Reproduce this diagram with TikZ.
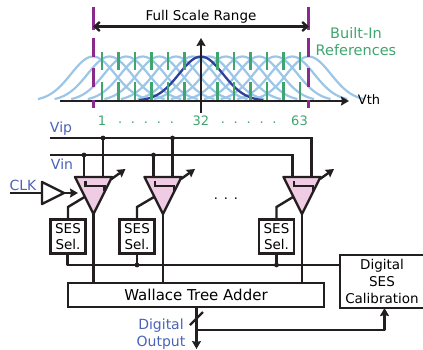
\documentclass[tikz,border=0pt]{standalone}
\usepackage{fontspec}
\setmainfont{DejaVu Sans}
\usetikzlibrary{arrows.meta,calc,positioning}
\definecolor{curvelight}{HTML}{9CC6E8}
\definecolor{curvedark}{HTML}{2F3F9C}
\definecolor{rangepurple}{HTML}{8A2A8C}
\definecolor{refgreen}{HTML}{3FA56F}
\definecolor{labelblue}{HTML}{4A62B8}
\definecolor{comppink}{HTML}{EFCCE3}
\definecolor{wire}{HTML}{231F20}
\tikzset{
  wireline/.style={line width=2.4pt,draw=wire},
  sesbox/.style={draw=wire,line width=2.4pt,fill=white,minimum width=35pt,minimum height=34pt,inner sep=0pt,align=center,font=\fontsize{13.5}{16}\selectfont},
  bluelabel/.style={text=labelblue,font=\fontsize{14}{17}\selectfont,inner sep=0pt},
  greenlabel/.style={text=refgreen,font=\fontsize{13}{14}\selectfont,inner sep=0pt},
  dotwire/.style={fill=wire},
}

\begin{document}
\begin{tikzpicture}[>={Stealth[length=8pt,width=9pt,inset=1pt]},x=1pt,y=-1pt]
  \useasboundingbox (0,0) rectangle (423,349);
  % threshold curves
  \foreach \k in {0,...,13} {
    \pgfmathsetmacro\c{93+16.6*\k}
    \draw[curvelight,line width=2.2pt] plot[domain=-55:55,samples=45,smooth] ({\c+\x},{101-44.5*exp(-(\x)*(\x)/968)});
  }
  \draw[curvedark,line width=2.3pt] plot[domain=-62:62,samples=45,smooth] ({201+\x},{101-44.5*exp(-(\x)*(\x)/968)});
  % built-in references
  \foreach \k in {0,1,2,3,4,5,7,8,9,10,11,12} {
    \pgfmathsetmacro\c{102+16.5*\k}
    \draw[refgreen,line width=2.2pt] (\c,52) -- (\c,70);
    \draw[refgreen,line width=2.2pt] (\c,82) -- (\c,100);
  }
  % axes
  \draw[->,wireline] (60,101) -- (349,101);
  \draw[->,wireline] (201,113) -- (201,38);
  \node[inner sep=0pt,font=\fontsize{13}{14}\selectfont] (vth) at (369,100) {Vth};
  % full scale markers
  \foreach \x in {93.5,308.5} {
    \draw[rangepurple,line width=2.2pt] (\x,7) -- (\x,30);
    \draw[rangepurple,line width=2.2pt] (\x,38) -- (\x,57);
    \draw[rangepurple,line width=2.2pt] (\x,68) -- (\x,87);
    \draw[rangepurple,line width=2.2pt] (\x,100) -- (\x,108);
  }
  \coordinate (fsl) at (93,26.5);
  \coordinate (fsr) at (309,26.5);
  \draw[{Straight Barb[length=5pt,width=9pt]}-{Straight Barb[length=5pt,width=9pt]},wireline] (fsl) -- (fsr);
  \node[inner sep=0pt,font=\fontsize{13.5}{14}\selectfont] (fsr text) at (201,17) {Full Scale Range};
  \node[text=refgreen,inner sep=0pt,align=center,font=\fontsize{14.5}{17}\selectfont] (refs) at (356,41.5) {Built-In\\References};
  \node[greenlabel] (n1) at (102,121) {1};
  \node[greenlabel,anchor=base] (d1) at (146,123) {.\hspace{8.8pt}.\hspace{8.8pt}.\hspace{8.8pt}.\hspace{8.8pt}.};
  \node[greenlabel] (n32) at (201,121) {32};
  \node[greenlabel,anchor=base] (d2) at (248.7,123) {.\hspace{8.8pt}.\hspace{8.8pt}.\hspace{8.8pt}.\hspace{8.8pt}.};
  \node[greenlabel] (n63) at (299.5,121) {63};
  % inputs
  \node[bluelabel] (vip) at (61,129) {Vip};
  \node[bluelabel] (vin) at (62,164) {Vin};
  \node[bluelabel] (clk) at (23,185) {CLK};
  \coordinate (vipl) at (50,138);
  \coordinate (vinl) at (50,155);
  % adder and calibration
  \node[draw=wire,line width=2.4pt,minimum width=256pt,minimum height=24pt,inner sep=0pt,font=\fontsize{15}{16}\selectfont] (wta) at (196,295) {Wallace Tree Adder};
  \node[draw=wire,line width=2.4pt,minimum width=84pt,minimum height=53pt,inner sep=0pt,align=center,font=\fontsize{13.5}{17}\selectfont] (cal) at (382,281.5) {Digital\\SES\\Calibration};
  % comparators
  \foreach \i/\a/\b in {1/93.5/68,2/163/137,3/302/276.5} {
    \coordinate (apex\i) at (\a,214);
    \coordinate (vn\i) at (\a-9.5,177);
    \coordinate (vp\i) at (\a+9.5,177);
    \coordinate (cal\i) at (\a-9,197);
    \node[sesbox] (ses\i) at (\b,236.5) {SES\\Sel.};
    \draw[wireline,line join=round,fill=comppink] (\a-18.5,177) -- (\a+18.5,177) -- (apex\i) -- cycle;
    \draw[wireline] (\a-8,181) -- (\a-8,186) -- (\a+11,186) -- (\a+11,191);
    \draw[->,wireline] (\a+18,179) -- (\a+32,169);
    \draw[wireline] (ses\i.north) -- (\b,207) -- (cal\i);
    \draw[wireline] (apex\i) -- (apex\i |- wta.north);
  }
  % Vip and Vin rails
  \draw[wireline] (vipl) -- (vp3 |- vipl) -- (vp3);
  \draw[wireline] (vinl) -- (vn3 |- vinl) -- (vn3);
  \foreach \i in {1,2} {
    \draw[wireline] (vp\i |- vipl) -- (vp\i);
    \draw[wireline] (vn\i |- vinl) -- (vn\i);
    \fill[dotwire] (vp\i |- vipl) circle (2.4pt);
    \fill[dotwire] (vn\i |- vinl) circle (2.4pt);
  }
  % clock buffer
  \coordinate (clkl) at (10,193);
  \draw[wireline,line join=round,fill=white] (42,182) -- (64,193) -- (42,204) -- cycle;
  \coordinate (bufin) at (42,193);
  \coordinate (bufout) at (64,193);
  \draw[wireline] (clkl) -- (bufin);
  \draw[->,wireline] (bufout) -- (78,193);
  \node[inner sep=0pt,anchor=base,font=\fontsize{13}{14}\selectfont] (more) at (226,199) {.\hspace{5.9pt}.\hspace{5.9pt}.};
  % calibration bus
  \coordinate (bus) at (67.5,265);
  \draw[wireline,line join=round] (ses1.south -| bus) -- (bus) -- (bus -| cal.west);
  \foreach \i in {2,3} {
    \draw[wireline] (ses\i.south) -- (ses\i.south |- bus);
    \fill[dotwire] (ses\i.south |- bus) circle (2.4pt);
  }
  % digital output
  \coordinate (outb) at (196.5,349);
  \coordinate (tap) at (196.5,330);
  \coordinate (calin) at (384.5,308);
  \draw[->,wireline] (wta.south -| outb) -- (outb);
  \draw[wireline] (190,325) -- (203,312);
  \draw[->,wireline,line join=round] (tap) -- (tap -| calin) -- (calin);
  \node[bluelabel,align=center] (dout) at (161,334) {Digital\\Output};
\end{tikzpicture}
\end{document}
